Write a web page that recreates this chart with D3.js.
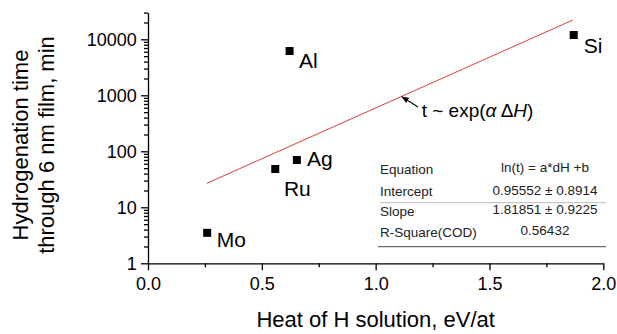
<!DOCTYPE html>
<html>
<head>
<meta charset="utf-8">
<script src="https://cdn.jsdelivr.net/npm/d3@7"></script>
<style>
  body { margin: 0; background: #fff; }
  svg { display: block; font-family: 'Liberation Sans', Arial, sans-serif; }
  .axis path, .axis line { stroke: #000; stroke-width: 1.3; }
</style>
</head>
<body>
<div id="chart"></div>
<script>
// data
const metals = ['Mo', 'Ru', 'Ag', 'Al', 'Si'];
const heatH = [0.260, 0.559, 0.654, 0.622, 1.870];
const hydTime = [3.50, 48.3, 70, 6180, 11930];
// label offsets (px) from each marker
const labelDx = [9.5, 8.7, 10, 9.5, 10];
const labelDy = [14.5, 27, 5.7, 17, 17.7];

// fitted line end points
const fitX = [0.258, 1.866];
const fitY = [26.8, 22100];

const xTicks = [0, 0.5, 1.0, 1.5, 2.0];
const xMinor = [0.25, 0.75, 1.25, 1.75];
const yTicks = [1, 10, 100, 1000, 10000];

const tableRows = ['Equation', 'Intercept', 'Slope', 'R-Square(COD)'];
const tableVals = ['ln(t) = a*dH +b', '0.95552 \u00b1 0.8914', '1.81851 \u00b1 0.9225', '0.56432'];

const width = 617, height = 334;
const x0 = 148, x1 = 603.3, yBot = 263.3, yTop = 12.6;

const svg = d3.select('#chart').append('svg')
  .attr('width', width)
  .attr('height', height);

/* Scale */
const xScale = d3.scaleLinear().domain([0, 2]).range([x0, x1]);
const yScale = d3.scaleLog().domain([1, 30000]).range([yBot, yTop]);

// log minor ticks 2..9 each decade, up to 30000
const yMinor = [];
for (let d = 1; d <= 10000; d *= 10) {
  for (let k = 2; k <= 9; k++) {
    if (d * k <= 30000) yMinor.push(d * k);
  }
}

/* Axes */
svg.append('g')
  .attr('class', 'axis')
  .attr('transform', `translate(0, ${yBot})`)
  .call(d3.axisBottom(xScale).tickValues(xMinor).tickSize(4).tickFormat('').tickSizeOuter(0))
  .select('.domain').remove();

const gx = svg.append('g')
  .attr('class', 'axis')
  .attr('transform', `translate(0, ${yBot})`)
  .call(d3.axisBottom(xScale).tickValues(xTicks).tickSize(7).tickPadding(7).tickSizeOuter(0)
    .tickFormat(d3.format('.1f')));
gx.selectAll('text').attr('font-size', 18).attr('fill', '#000').attr('font-family', null);

svg.append('g')
  .attr('class', 'axis')
  .attr('transform', `translate(${x0}, 0)`)
  .call(d3.axisLeft(yScale).tickValues(yMinor).tickSize(4).tickFormat('').tickSizeOuter(0))
  .select('.domain').remove();

const gy = svg.append('g')
  .attr('class', 'axis')
  .attr('transform', `translate(${x0}, 0)`)
  .call(d3.axisLeft(yScale).tickValues(yTicks).tickSize(7).tickPadding(4.3).tickSizeOuter(0)
    .tickFormat(d3.format('d')));
gy.selectAll('text').attr('font-size', 18).attr('fill', '#000').attr('font-family', null);

// axis titles
svg.append('text')
  .attr('x', (x0 + x1) / 2)
  .attr('y', 326.7)
  .attr('text-anchor', 'middle')
  .attr('font-size', 22)
  .text('Heat of H solution, eV/at');

const yt = svg.append('text')
  .attr('transform', 'translate(0, 145) rotate(-90)')
  .attr('text-anchor', 'middle')
  .attr('font-size', 22);
yt.append('tspan').attr('x', 0).attr('y', 28).text('Hydrogenation time');
yt.append('tspan').attr('x', 0).attr('y', 53.5).text('through 6 nm film, min');

/* fit line */
const fitPts = fitX.map((v, i) => [v, fitY[i]]);
svg.append('path')
  .attr('d', d3.line().x(d => xScale(d[0])).y(d => yScale(d[1]))(fitPts))
  .attr('fill', 'none')
  .attr('stroke', '#d8423f')
  .attr('stroke-width', 1);

/* points */
const pts = metals.map((m, i) => ({ name: m, x: heatH[i], y: hydTime[i], dx: labelDx[i], dy: labelDy[i] }));
const sq = 8;
svg.selectAll('.pt')
  .data(pts).enter()
  .append('rect')
  .attr('class', 'pt')
  .attr('x', d => xScale(d.x) - sq / 2)
  .attr('y', d => yScale(d.y) - sq / 2)
  .attr('width', sq)
  .attr('height', sq)
  .attr('fill', '#000');

svg.selectAll('.lbl')
  .data(pts).enter()
  .append('text')
  .attr('class', 'lbl')
  .attr('x', d => xScale(d.x) + d.dx)
  .attr('y', d => yScale(d.y) + d.dy)
  .attr('font-size', 21)
  .text(d => d.name);

/* annotation arrow */
svg.append('defs').append('marker')
  .attr('id', 'ah')
  .attr('viewBox', '0 0 10 10')
  .attr('refX', 9).attr('refY', 5)
  .attr('markerWidth', 7).attr('markerHeight', 7)
  .attr('orient', 'auto')
  .append('path')
  .attr('d', 'M0,1 L10,5 L0,9 z')
  .attr('fill', '#000');

svg.append('line')
  .attr('x1', 418).attr('y1', 107)
  .attr('x2', 402).attr('y2', 96.8)
  .attr('stroke', '#000')
  .attr('stroke-width', 1.1)
  .attr('marker-end', 'url(#ah)');

const ann = svg.append('text')
  .attr('x', 421.7)
  .attr('y', 117.3)
  .attr('font-size', 19);
ann.append('tspan').text('t ~ exp(');
ann.append('tspan').attr('font-style', 'italic').text('\u03b1');
ann.append('tspan').text(' \u0394');
ann.append('tspan').attr('font-style', 'italic').text('H');
ann.append('tspan').text(')');

/* fit table */
const rowY = [174, 195.7, 216, 237.3];
const valY = [171.7, 195, 214, 235];
const tbl = svg.append('g').attr('font-size', 13.5).attr('fill', '#222');
tbl.selectAll('.rl')
  .data(tableRows).enter()
  .append('text')
  .attr('x', 380)
  .attr('y', (d, i) => rowY[i])
  .text(d => d);
tbl.selectAll('.rv')
  .data(tableVals).enter()
  .append('text')
  .attr('x', 545)
  .attr('y', (d, i) => valY[i])
  .attr('text-anchor', 'middle')
  .text(d => d);
svg.append('line')
  .attr('x1', 380).attr('x2', 606)
  .attr('y1', 202.7).attr('y2', 202.7)
  .attr('stroke', '#bbb').attr('stroke-width', 1);
svg.append('line')
  .attr('x1', 378).attr('x2', 606)
  .attr('y1', 246.7).attr('y2', 246.7)
  .attr('stroke', '#444').attr('stroke-width', 1);
</script>
</body>
</html>
